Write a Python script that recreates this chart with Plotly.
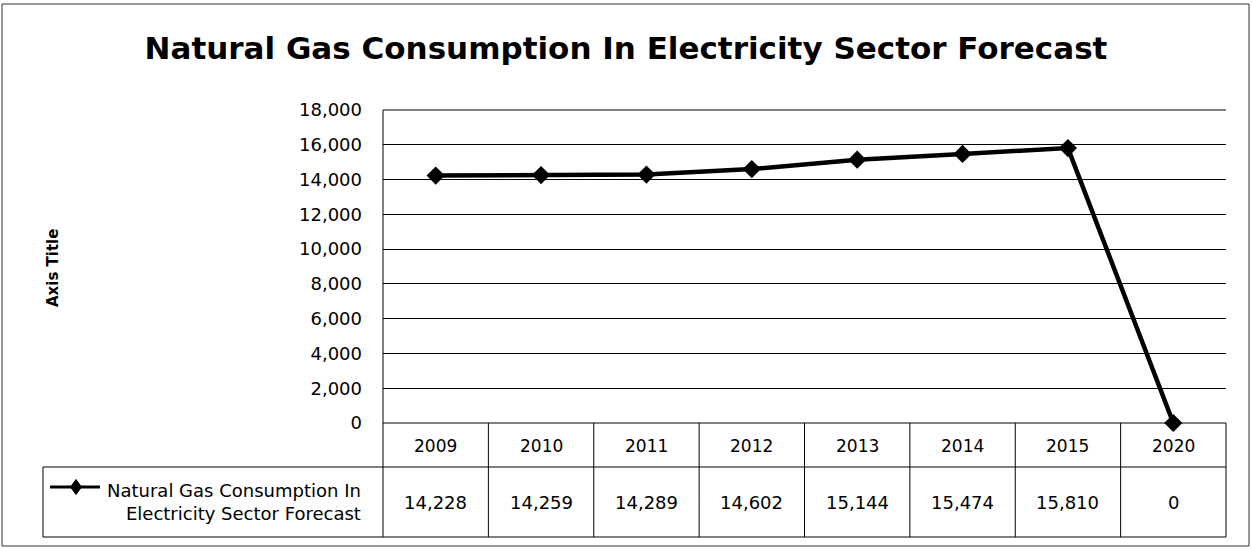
import plotly.graph_objects as go

years = ["2009", "2010", "2011", "2012", "2013", "2014", "2015", "2020"]
values = [14228, 14259, 14289, 14602, 15144, 15474, 15810, 0]
series_name = "Natural Gas Consumption In Electricity Sector Forecast"
legend_label = "Natural Gas Consumption In<br>Electricity Sector Forecast"
title_text = "Natural Gas Consumption In Electricity Sector Forecast"
y_title = "Axis Title"

W, H = 1252, 549
L, R, T, B = 383, 26, 110, 126
pw, ph = W - L - R, H - T - B

def px_x(p):
    return (p - L) / pw

def px_y(p):
    return (H - B - p) / ph

n = len(years)
xs = list(range(n))
FONT = "DejaVu Sans"

fig = go.Figure()
fig.add_trace(go.Scatter(
    x=xs, y=values, mode="lines+markers", name=series_name,
    line=dict(color="black", width=4.5),
    marker=dict(symbol="diamond", size=14, color="black"),
    showlegend=False, cliponaxis=False,
))

shapes = []
line_style = dict(color="black", width=1)
# plot top and bottom edges
for yv in [0, 1]:
    shapes.append(dict(type="line", xref="paper", yref="paper", x0=0, x1=1, y0=yv, y1=yv, line=line_style))
# table horizontal lines
row1_bot = px_y(467)
row2_bot = px_y(537)
for yv in [row1_bot, row2_bot]:
    shapes.append(dict(type="line", xref="paper", yref="paper", x0=0, x1=1, y0=yv, y1=yv, line=line_style))
# table vertical lines
for i in range(n + 1):
    xv = i / n
    shapes.append(dict(type="line", xref="paper", yref="paper", x0=xv, x1=xv, y0=0, y1=row2_bot, line=line_style))
# left plot edge up to top
shapes.append(dict(type="line", xref="paper", yref="paper", x0=0, x1=0, y0=0, y1=1, line=line_style))
# legend cell
lx0 = px_x(43)
shapes.append(dict(type="line", xref="paper", yref="paper", x0=lx0, x1=0, y0=row1_bot, y1=row1_bot, line=line_style))
shapes.append(dict(type="line", xref="paper", yref="paper", x0=lx0, x1=0, y0=row2_bot, y1=row2_bot, line=line_style))
shapes.append(dict(type="line", xref="paper", yref="paper", x0=lx0, x1=lx0, y0=row1_bot, y1=row2_bot, line=line_style))
# legend symbol
ly = px_y(487)
shapes.append(dict(type="line", xref="paper", yref="paper", x0=px_x(50), x1=px_x(100), y0=ly, y1=ly,
                   line=dict(color="black", width=3)))
cx, dx, dy = px_x(76), 5.5 / pw, 7.5 / ph
shapes.append(dict(type="path", xref="paper", yref="paper",
                   path=f"M {cx-dx} {ly} L {cx} {ly+dy} L {cx+dx} {ly} L {cx} {ly-dy} Z",
                   fillcolor="black", line=dict(color="black", width=1)))
# outer border
shapes.append(dict(type="rect", xref="paper", yref="paper",
                   x0=px_x(2), x1=px_x(1249), y0=px_y(546), y1=px_y(4),
                   line=dict(color="#333", width=1)))

annotations = []
for i, (yr, v) in enumerate(zip(years, values)):
    annotations.append(dict(x=i, xref="x", y=px_y(446), yref="paper", text=yr, showarrow=False,
                            font=dict(family=FONT, size=17, color="black"), xanchor="center", yanchor="middle"))
    annotations.append(dict(x=i, xref="x", y=px_y(502), yref="paper", text=f"{v:,}", showarrow=False,
                            font=dict(family=FONT, size=18, color="black"), xanchor="center", yanchor="middle"))
annotations.append(dict(x=px_x(363), xref="paper", y=px_y(502), yref="paper", text=legend_label, showarrow=False,
                        align="right", xanchor="right", yanchor="middle",
                        font=dict(family=FONT, size=18, color="black")))
annotations.append(dict(x=px_x(53), xref="paper", y=px_y(268), yref="paper", text=f"<b>{y_title}</b>",
                        showarrow=False, textangle=-90, xanchor="center", yanchor="middle",
                        font=dict(family=FONT, size=15, color="black")))

fig.update_layout(
    width=W, height=H,
    margin=dict(l=L, r=R, t=T, b=B),
    paper_bgcolor="white", plot_bgcolor="white",
    title=dict(text=f"<b>{title_text}</b>", x=0.5, xanchor="center", y=1 - 48 / H, yanchor="middle",
               font=dict(family=FONT, size=31, color="black")),
    xaxis=dict(range=[-0.5, n - 0.5], showticklabels=False, showgrid=False, zeroline=False,
               showline=False, ticks="", tickvals=xs),
    yaxis=dict(range=[0, 18000], dtick=2000, tickformat=",", showgrid=True, gridcolor="black", gridwidth=1,
               zeroline=False, showline=False, ticks="", ticklabelstandoff=20,
               tickfont=dict(family=FONT, size=18, color="black")),
    shapes=shapes, annotations=annotations,
)

fig.write_html("out.html")
